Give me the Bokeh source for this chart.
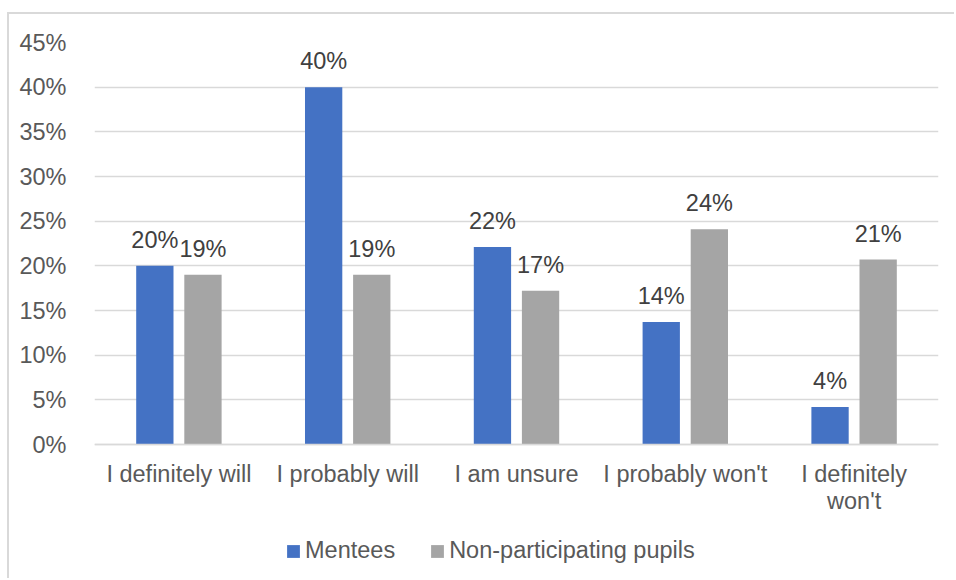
from bokeh.plotting import figure
from bokeh.models import (ColumnDataSource, FactorRange, Range1d, FixedTicker, PrintfTickFormatter,
                          Legend, LegendItem)
from bokeh.transform import dodge
from bokeh.embed import file_html
from bokeh.resources import INLINE
from bokeh.core.properties import value

categories = ["I definitely will", "I probably will", "I am unsure", "I probably won't", "I definitely\nwon't"]
mentees = [20.0, 40.0, 22.1, 13.7, 4.2]
non_participating = [19.0, 19.0, 17.2, 24.1, 20.7]
mentees_labels = ["20%", "40%", "22%", "14%", "4%"]
non_participating_labels = ["19%", "19%", "17%", "24%", "21%"]
y_ticks = [0, 5, 10, 15, 20, 25, 30, 35, 40, 45]
series_names = ["Mentees", "Non-participating pupils"]

BLUE = "#4472C4"
GRAY = "#A5A5A5"
GRID = "#D9D9D9"
TXT = "#595959"
LBL = "#404040"
FONT = "Liberation Sans"
FS = "23.5px"

# layout (pixels): plot area of 0..45 % is 402 px tall, with 136 px below it for axis labels & legend
AXIS_PX = 402
BELOW_PX = 136
y_max = y_ticks[-1]
y_min = -BELOW_PX * y_max / AXIS_PX

src = ColumnDataSource(dict(cat=categories, m=mentees, n=non_participating,
                            ml=mentees_labels, nl=non_participating_labels))

p = figure(x_range=FactorRange(*categories, range_padding=0), y_range=Range1d(y_min, y_max),
           width=947, height=28 + AXIS_PX + BELOW_PX, output_backend="svg", toolbar_location=None,
           min_border_left=85, min_border_right=18, min_border_top=28, min_border_bottom=0,
           styles={"margin-left": "9px", "margin-top": "14px",
                   "box-shadow": "-2px -2px 0 0 #D9D9D9"})
p.outline_line_color = None
p.background_fill_color = "white"
p.border_fill_color = "white"

r1 = p.vbar(x=dodge("cat", -0.1425, range=p.x_range), top="m", width=0.221, source=src,
            fill_color=BLUE, line_color=None)
r2 = p.vbar(x=dodge("cat", 0.1425, range=p.x_range), top="n", width=0.221, source=src,
            fill_color=GRAY, line_color=None)

p.text(x=dodge("cat", -0.1425, range=p.x_range), y="m", text="ml", source=src,
       text_align="center", text_baseline="alphabetic", y_offset=-26,
       text_font=value(FONT), text_font_size=FS, text_color=LBL)
p.text(x=dodge("cat", 0.1425, range=p.x_range), y="n", text="nl", source=src,
       text_align="center", text_baseline="alphabetic", y_offset=-26,
       text_font=value(FONT), text_font_size=FS, text_color=LBL)

# grid
p.xgrid.grid_line_color = None
p.ygrid.grid_line_color = GRID
p.ygrid.grid_line_width = 1.5
p.yaxis.ticker = FixedTicker(ticks=y_ticks)
p.ygrid.ticker = FixedTicker(ticks=y_ticks)

# y axis
p.yaxis.formatter = PrintfTickFormatter(format="%d%%")
p.yaxis.axis_line_color = None
p.yaxis.major_tick_line_color = None
p.yaxis.minor_tick_line_color = None
p.yaxis.major_label_standoff = 22
p.yaxis.major_label_text_font = FONT
p.yaxis.major_label_text_font_size = FS
p.yaxis.major_label_text_color = TXT

# x axis, drawn at y = 0
p.xaxis.fixed_location = 0
p.xaxis.axis_line_color = GRID
p.xaxis.axis_line_width = 1.5
p.xaxis.major_tick_line_color = None
p.xaxis.minor_tick_line_color = None
p.xaxis.major_label_standoff = 10
p.xaxis.major_label_text_font = FONT
p.xaxis.major_label_text_font_size = FS
p.xaxis.major_label_text_color = TXT
p.xaxis.major_label_text_line_height = 1.05

legend = Legend(items=[LegendItem(label=series_names[0], renderers=[r1]),
                       LegendItem(label=series_names[1], renderers=[r2])],
                orientation="horizontal", location=(191, 16),
                glyph_width=16, glyph_height=16, label_standoff=4, spacing=34,
                label_text_font=FONT, label_text_font_size=FS, label_text_color=TXT,
                border_line_color=None, background_fill_alpha=0, margin=0, padding=0)
p.add_layout(legend, "center")

open("out.html", "w").write(file_html(p, INLINE))
